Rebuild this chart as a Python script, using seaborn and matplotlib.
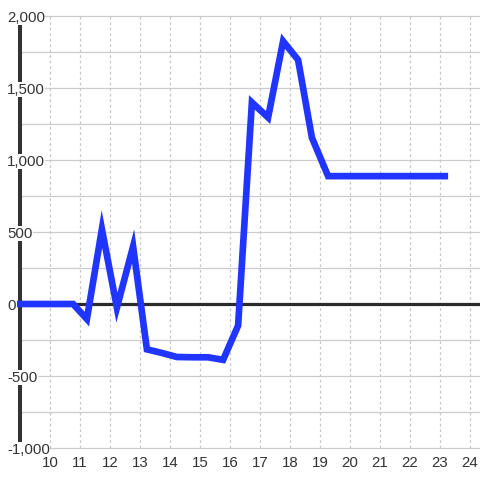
import matplotlib

matplotlib.use("Agg")

import matplotlib.pyplot as plt
import seaborn as sns

# Values
x_vals = [8.9, 9.27, 9.77, 10.27, 10.77, 11.23, 11.73, 12.23, 12.77, 13.23,
          13.73, 14.23, 14.77, 15.27, 15.77, 16.27, 16.73, 17.27, 17.77, 18.27,
          18.73, 19.27, 19.77, 20.27, 20.77, 21.27, 21.77, 22.27, 22.77, 23.27]
y_vals = [0, 0, 0, 0, 0, -105, 520, -25, 400, -315,
          -340, -368, -370, -370, -388, -150, 1400, 1295, 1825, 1695,
          1155, 888, 888, 888, 888, 888, 888, 888, 888, 888]

x_ticks = list(range(10, 25))
y_ticks = [-1000, -500, 0, 500, 1000, 1500, 2000]
y_grid = list(range(-1000, 2001, 250))

X_MIN, X_MAX = 9.0, 24.333
Y_MIN, Y_MAX = -1000, 2000


def main() -> None:
    sns.set_theme(style="white")
    plt.rcParams["font.family"] = ["Liberation Sans", "DejaVu Sans"]

    fig = plt.figure(figsize=(4.8, 4.8), dpi=100)
    ax = fig.add_axes([20 / 480, 32 / 480, 460 / 480, 432 / 480])
    ax.set_xlim(X_MIN, X_MAX)
    ax.set_ylim(Y_MIN, Y_MAX)
    for s in ax.spines.values():
        s.set_visible(False)

    # grid
    ax.hlines(y_grid, X_MIN, X_MAX, colors="#cccccc", linewidth=0.9,
              zorder=0.2, clip_on=False)
    ax.vlines(x_ticks, Y_MIN, Y_MAX, colors="#c8c8c8", linewidth=0.9,
              linestyles=(0, (2.2, 2.2)), zorder=0.2, clip_on=False)

    # zero line and left axis line
    ax.axhline(0, color="#2b2b2b", linewidth=2.3, zorder=1)
    ax.vlines([X_MIN], Y_MIN, Y_MAX, colors="#333333", linewidth=2.9,
              zorder=1, clip_on=False)

    sns.lineplot(x=x_vals, y=y_vals, ax=ax, color="#2035ff", linewidth=4.8,
                 zorder=2, solid_joinstyle="miter", solid_capstyle="butt",
                 clip_on=False)

    ax.set_xticks(x_ticks)
    ax.set_yticks(y_ticks)
    ax.set_yticklabels([f"{v:,}" for v in y_ticks])
    ax.tick_params(axis="y", length=0, pad=9.4, labelsize=10.8,
                   labelcolor="#333333")
    ax.tick_params(axis="x", length=0, pad=5.5, labelsize=10.8,
                   labelcolor="#333333")
    for lbl in ax.get_yticklabels():
        lbl.set_horizontalalignment("left")
        lbl.set_bbox(dict(facecolor="white", edgecolor="none", pad=0.3))
    ax.yaxis.set_zorder(3)
    ax.set_xlabel("")
    ax.set_ylabel("")

    fig.savefig("out.png", dpi=100)
    plt.close(fig)


if __name__ == "__main__":
    main()
